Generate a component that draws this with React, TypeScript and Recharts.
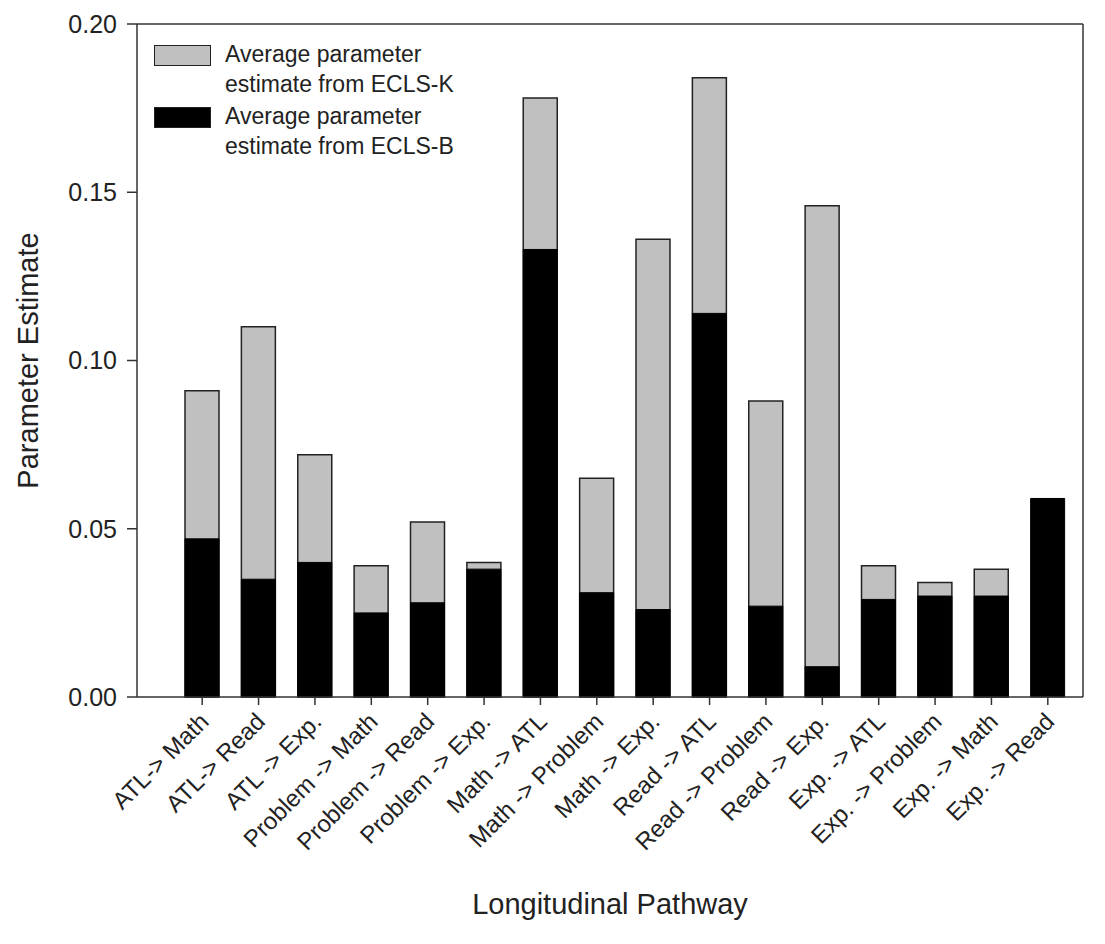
import { BarChart, Bar, XAxis, YAxis } from 'recharts';

const pathways = [
  'ATL-> Math',
  'ATL-> Read',
  'ATL -> Exp.',
  'Problem -> Math',
  'Problem -> Read',
  'Problem -> Exp.',
  'Math -> ATL',
  'Math -> Problem',
  'Math -> Exp.',
  'Read -> ATL',
  'Read -> Problem',
  'Read -> Exp.',
  'Exp. -> ATL',
  'Exp. -> Problem',
  'Exp. -> Math',
  'Exp. -> Read',
];

// ECLS-K (gray, behind) and ECLS-B (black, in front)
const eclsK = [0.091, 0.110, 0.072, 0.039, 0.052, 0.040, 0.178, 0.065, 0.136, 0.184, 0.088, 0.146, 0.039, 0.034, 0.038, 0];
const eclsB = [0.047, 0.035, 0.040, 0.025, 0.028, 0.038, 0.133, 0.031, 0.026, 0.114, 0.027, 0.009, 0.029, 0.030, 0.030, 0.059];

const yTicks = [0, 0.05, 0.1, 0.15, 0.2];

const legendItems = [
  { color: '#c0c0c0', label: ['Average parameter', 'estimate from ECLS-K'] },
  { color: '#000000', label: ['Average parameter', 'estimate from ECLS-B'] },
];

const data = pathways.map((p, i) => ({ pathway: p, k: eclsK[i], b: eclsB[i] }));

const FONT = 'Arial, "Liberation Sans", sans-serif';
const INK = '#222';
const AXIS = { stroke: '#333', strokeWidth: 1.5 };

const XTick = (props: any) => {
  const { x, y, payload } = props;
  return (
    <text
      x={x + 8}
      y={y + 16}
      transform={`rotate(-45 ${x + 8} ${y + 16})`}
      textAnchor="end"
      fontSize={24}
      fontFamily={FONT}
      fill={INK}
    >
      {payload.value}
    </text>
  );
};

const YLabel = (props: any) => {
  const { viewBox } = props;
  const cy = viewBox.y + viewBox.height / 2;
  return (
    <text
      x={30}
      y={cy}
      transform={`rotate(-90 30 ${cy})`}
      textAnchor="middle"
      fontSize={29}
      fontFamily={FONT}
      fill={INK}
    >
      Parameter Estimate
    </text>
  );
};

const XLabel = (props: any) => {
  const { viewBox } = props;
  const cx = viewBox.x + viewBox.width / 2;
  return (
    <text x={cx} y={906} textAnchor="middle" fontSize={29} fontFamily={FONT} fill={INK}>
      Longitudinal Pathway
    </text>
  );
};

const LegendBox = () => (
  <div
    style={{
      position: 'absolute',
      top: 31,
      left: 146,
      fontFamily: FONT,
      fontSize: 23,
      color: INK,
    }}
  >
    {legendItems.map((it) => (
      <div key={it.label[1]} style={{ display: 'flex', alignItems: 'flex-start', height: 62 }}>
        <div
          style={{
            width: 55,
            height: 19,
            marginTop: 6,
            background: it.color,
            border: '1.5px solid #222',
            marginRight: 14,
          }}
        />
        <div style={{ lineHeight: '30px' }}>
          <div>{it.label[0]}</div>
          <div>{it.label[1]}</div>
        </div>
      </div>
    ))}
  </div>
);

export default function App() {
  return (
    <div style={{ position: 'relative', width: 1090, height: 930 }}>
      <BarChart
        width={1090}
        height={930}
        data={data}
        margin={{ top: 15, right: 14, bottom: 0, left: 0 }}
        barCategoryGap={0}
      >
        <XAxis
          xAxisId="bottom"
          dataKey="pathway"
          interval={0}
          height={241}
          padding={{ left: 37, right: 7 }}
          tick={<XTick />}
          tickSize={8}
          axisLine={AXIS}
          tickLine={AXIS}
          label={<XLabel />}
        />
        <XAxis
          xAxisId="top"
          dataKey="pathway"
          orientation="top"
          height={1}
          padding={{ left: 37, right: 7 }}
          tick={false}
          tickLine={false}
          axisLine={AXIS}
        />
        <YAxis
          yAxisId="left"
          type="number"
          domain={[0, 0.2]}
          ticks={yTicks}
          width={129}
          tickSize={10}
          tickMargin={10}
          tickFormatter={(v: number) => v.toFixed(2)}
          tick={{ fontSize: 25, fontFamily: FONT, fill: INK }}
          axisLine={AXIS}
          tickLine={AXIS}
          label={<YLabel />}
        />
        <YAxis
          yAxisId="right"
          type="number"
          orientation="right"
          domain={[0, 0.2]}
          width={1}
          tick={false}
          tickLine={false}
          axisLine={AXIS}
        />
        <Bar
          dataKey="k"
          xAxisId="top"
          yAxisId="left"
          barSize={34}
          fill="#c0c0c0"
          stroke="#222"
          strokeWidth={1.5}
          isAnimationActive={false}
        />
        <Bar
          dataKey="b"
          xAxisId="bottom"
          yAxisId="right"
          barSize={34}
          fill="#000000"
          stroke="#000000"
          strokeWidth={1}
          isAnimationActive={false}
        />
      </BarChart>
      <LegendBox />
    </div>
  );
}
